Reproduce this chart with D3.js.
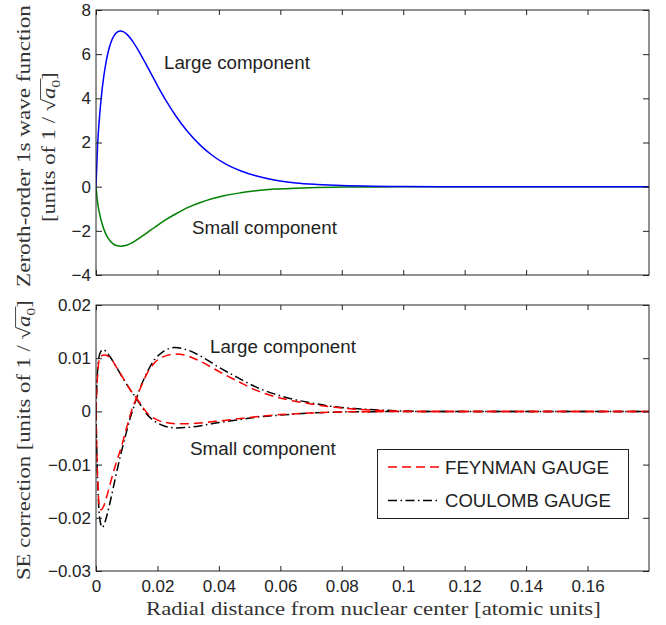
<!DOCTYPE html>
<html><head><meta charset="utf-8">
<script src="https://cdn.jsdelivr.net/npm/d3@7"></script>
<style>body{margin:0;background:#fff} svg{display:block}</style>
</head><body>
<script>
// ---------- DATA ----------
const xTicks = [0, 0.02, 0.04, 0.06, 0.08, 0.1, 0.12, 0.14, 0.16];
const xTickLabels = ["0", "0.02", "0.04", "0.06", "0.08", "0.1", "0.12", "0.14", "0.16"];
const topYTicks = [-4, -2, 0, 2, 4, 6, 8];
const topYTickLabels = ["\u22124", "\u22122", "0", "2", "4", "6", "8"];
const botYTicks = [-0.03, -0.02, -0.01, 0, 0.01, 0.02];
const botYTickLabels = ["\u22120.03", "\u22120.02", "\u22120.01", "0", "0.01", "0.02"];

// Top panel: zeroth-order 1s wave function
const xTop = [0, 0.0005, 0.001, 0.002, 0.003, 0.004, 0.005, 0.006, 0.007, 0.008, 0.009, 0.010, 0.012, 0.014, 0.016, 0.018, 0.020, 0.023, 0.026, 0.030, 0.034, 0.038, 0.042, 0.047, 0.052, 0.058, 0.065, 0.072, 0.080, 0.090, 0.100, 0.120, 0.140, 0.160, 0.180];
const largeTop = [0, 1.83, 2.91, 4.42, 5.43, 6.12, 6.58, 6.86, 7.01, 7.05, 7.01, 6.91, 6.57, 6.12, 5.62, 5.10, 4.58, 3.85, 3.20, 2.46, 1.87, 1.40, 1.04, 0.72, 0.49, 0.30, 0.17, 0.10, 0.05, 0.02, 0.01, 0, 0, 0, 0];
const smallTop = [0, -0.70, -1.11, -1.69, -2.08, -2.34, -2.52, -2.63, -2.68, -2.70, -2.68, -2.65, -2.52, -2.34, -2.15, -1.95, -1.75, -1.47, -1.23, -0.94, -0.72, -0.54, -0.40, -0.28, -0.19, -0.11, -0.07, -0.04, -0.02, -0.01, 0, 0, 0, 0, 0];

// Bottom panel: SE correction
const xFeynLarge = [0, 0.0003, 0.0007, 0.0012, 0.0017, 0.0025, 0.0035, 0.005, 0.0065, 0.0084, 0.010, 0.0115, 0.0133, 0.0165, 0.019, 0.022, 0.026, 0.030, 0.034, 0.040, 0.046, 0.052, 0.058, 0.064, 0.070, 0.076, 0.085, 0.095, 0.105, 0.18];
const feynLarge = [0, -0.0080, -0.0150, -0.0182, -0.0185, -0.0178, -0.0160, -0.0128, -0.0098, -0.0064, -0.0030, 0.0000, 0.0027, 0.0070, 0.0091, 0.0103, 0.0108, 0.0104, 0.0094, 0.0075, 0.0057, 0.0040, 0.0028, 0.0020, 0.0014, 0.0009, 0.0004, 0.0001, 0, 0];
const xCoulLarge = [0, 0.0003, 0.0008, 0.0014, 0.0020, 0.0028, 0.0038, 0.005, 0.0065, 0.008, 0.0095, 0.011, 0.0125, 0.014, 0.0165, 0.019, 0.022, 0.0257, 0.030, 0.034, 0.040, 0.046, 0.052, 0.058, 0.064, 0.070, 0.076, 0.085, 0.095, 0.105, 0.18];
const coulLarge = [0, -0.0085, -0.0170, -0.0208, -0.0218, -0.0210, -0.0190, -0.0160, -0.0120, -0.0082, -0.0048, -0.0015, 0.0012, 0.0038, 0.0072, 0.0097, 0.0113, 0.0120, 0.0115, 0.0104, 0.0083, 0.0064, 0.0046, 0.0033, 0.0023, 0.0016, 0.0010, 0.0005, 0.0002, 0, 0];
const xFeynSmall = [0, 0.0004, 0.0009, 0.0016, 0.0028, 0.0046, 0.007, 0.009, 0.011, 0.0133, 0.015, 0.0165, 0.019, 0.022, 0.026, 0.030, 0.035, 0.040, 0.046, 0.052, 0.060, 0.070, 0.080, 0.090, 0.100, 0.18];
const feynSmall = [0, 0.0058, 0.0092, 0.0104, 0.0106, 0.0101, 0.0080, 0.0061, 0.0042, 0.0024, 0.0010, -0.0002, -0.0013, -0.0020, -0.0023, -0.0023, -0.0021, -0.0018, -0.0014, -0.0010, -0.0006, -0.0003, -0.0001, -0.00005, 0, 0];
const xCoulSmall = [0, 0.0004, 0.0009, 0.0015, 0.0024, 0.0035, 0.005, 0.007, 0.009, 0.011, 0.0133, 0.015, 0.0165, 0.019, 0.022, 0.026, 0.030, 0.035, 0.040, 0.046, 0.052, 0.060, 0.070, 0.080, 0.090, 0.100, 0.18];
const coulSmall = [0, 0.0065, 0.0100, 0.0112, 0.0116, 0.0111, 0.0099, 0.0080, 0.0060, 0.0042, 0.0023, 0.0008, -0.0005, -0.0018, -0.0027, -0.0031, -0.0030, -0.0026, -0.0021, -0.0016, -0.0011, -0.0007, -0.0003, -0.0001, -0.00005, 0, 0];

const legendLabels = ["FEYNMAN GAUGE", "COULOMB GAUGE"];

// ---------- LAYOUT ----------
const W = 666, H = 625;
const L = 96, R = 649;
const topP = {t: 10, b: 275};
const botP = {t: 305, b: 571};
const SANS = "'Liberation Sans', Arial, Helvetica, sans-serif";
const SERIF = "'Liberation Serif', 'Times New Roman', serif";
const INK = "#222";
const LABEL_INK = "#333";

const svg = d3.select("body").append("svg").attr("width", W).attr("height", H);

const x = d3.scaleLinear().domain([0, 0.18]).range([L, R]);
const yTop = d3.scaleLinear().domain([-4, 8]).range([topP.b, topP.t]);
const yBot = d3.scaleLinear().domain([-0.03, 0.02]).range([botP.b, botP.t]);

const defs = svg.append("defs");
defs.append("clipPath").attr("id", "clipTop").append("rect")
  .attr("x", L).attr("y", topP.t).attr("width", R - L).attr("height", topP.b - topP.t);
defs.append("clipPath").attr("id", "clipBot").append("rect")
  .attr("x", L).attr("y", botP.t).attr("width", R - L).attr("height", botP.b - botP.t);

function styleAxis(g) {
  g.select(".domain").remove();
  g.selectAll(".tick line").attr("stroke", INK).attr("stroke-width", 1);
  g.selectAll(".tick text").attr("fill", INK);
  g.attr("font-family", SANS).attr("font-size", 17);
}

function drawFrame(y, p, yTicks, yLabels, showX) {
  const fmtY = d => yLabels[yTicks.indexOf(d)];
  const fmtX = d => xTickLabels[xTicks.indexOf(d)];
  svg.append("g").attr("transform", `translate(${L},0)`)
    .call(d3.axisLeft(y).tickValues(yTicks).tickFormat(fmtY).tickSizeInner(-6).tickSizeOuter(0).tickPadding(5))
    .call(styleAxis);
  svg.append("g").attr("transform", `translate(${R},0)`)
    .call(d3.axisRight(y).tickValues(yTicks).tickFormat("").tickSizeInner(-6).tickSizeOuter(0))
    .call(styleAxis);
  svg.append("g").attr("transform", `translate(0,${p.t})`)
    .call(d3.axisTop(x).tickValues(xTicks).tickFormat("").tickSizeInner(-5).tickSizeOuter(0))
    .call(styleAxis);
  svg.append("g").attr("transform", `translate(0,${p.b})`)
    .call(d3.axisBottom(x).tickValues(xTicks).tickFormat(showX ? fmtX : "").tickSizeInner(-5).tickSizeOuter(0).tickPadding(9))
    .call(styleAxis);
  svg.append("rect").attr("x", L).attr("y", p.t).attr("width", R - L).attr("height", p.b - p.t)
    .attr("fill", "none").attr("stroke", INK).attr("stroke-width", 1);
}

function series(xs, ys) { return xs.map((d, i) => [d, ys[i]]); }

// ---------- TOP PANEL ----------
const lineTop = d3.line().x(d => x(d[0])).y(d => yTop(d[1])).curve(d3.curveMonotoneX);
const gTop = svg.append("g").attr("clip-path", "url(#clipTop)");
gTop.append("path").attr("d", lineTop(series(xTop, smallTop)))
  .attr("fill", "none").attr("stroke", "#008000").attr("stroke-width", 1.5);
gTop.append("path").attr("d", lineTop(series(xTop, largeTop)))
  .attr("fill", "none").attr("stroke", "#0000ff").attr("stroke-width", 1.5);
drawFrame(yTop, topP, topYTicks, topYTickLabels, false);

// ---------- BOTTOM PANEL ----------
const lineBot = d3.line().x(d => x(d[0])).y(d => yBot(d[1])).curve(d3.curveMonotoneX);
const gBot = svg.append("g").attr("clip-path", "url(#clipBot)");
const DASH = "9,5";
const DASHDOT = "9,3.5,1.5,3.5";
[[xCoulLarge, coulLarge], [xCoulSmall, coulSmall]].forEach(([xs, ys]) => {
  gBot.append("path").attr("d", lineBot(series(xs, ys)))
    .attr("fill", "none").attr("stroke", "#000").attr("stroke-width", 1.5).attr("stroke-dasharray", DASHDOT);
});
[[xFeynLarge, feynLarge], [xFeynSmall, feynSmall]].forEach(([xs, ys]) => {
  gBot.append("path").attr("d", lineBot(series(xs, ys)))
    .attr("fill", "none").attr("stroke", "#ff0000").attr("stroke-width", 1.5).attr("stroke-dasharray", DASH);
});
drawFrame(yBot, botP, botYTicks, botYTickLabels, true);

// ---------- TEXT HELPERS ----------
function fitWidth(t, target) {
  const len = t.node().getComputedTextLength();
  const fs = parseFloat(t.attr("font-size"));
  t.attr("font-size", fs * target / len);
}

function annot(txt, xx, yy, w) {
  const t = svg.append("text").attr("x", xx).attr("y", yy).attr("font-family", SANS)
    .attr("font-size", 17).attr("fill", INK).text(txt);
  fitWidth(t, w);
}
annot("Large component", 164, 69, 146);
annot("Small component", 192, 234, 145);
annot("Large component", 210, 353, 146);
annot("Small component", 190, 455, 146);

// ---------- LEGEND ----------
const lg = svg.append("g");
lg.append("rect").attr("x", 377.5).attr("y", 449.5).attr("width", 251).attr("height", 69)
  .attr("fill", "#fff").attr("stroke", INK).attr("stroke-width", 1);
const legStyles = [{c: "#ff0000", d: DASH}, {c: "#000", d: DASHDOT}];
legendLabels.forEach((lab, i) => {
  const yy = 467 + i * 33.5;
  lg.append("line").attr("x1", 388).attr("x2", 439).attr("y1", yy).attr("y2", yy)
    .attr("stroke", legStyles[i].c).attr("stroke-width", 1.5).attr("stroke-dasharray", legStyles[i].d);
  const t = lg.append("text").attr("x", 445).attr("y", yy + 6.5).attr("font-family", SANS)
    .attr("font-size", 17).attr("fill", INK).text(lab);
  fitWidth(t, i === 0 ? 164 : 166);
});

// ---------- AXIS LABELS ----------
// stretch a serif text horizontally (along its direction) to a target length
function stretchedText(parent, fs, target, build) {
  const sg = parent.append("g");
  const t = sg.append("text").attr("x", 0).attr("y", 0)
    .attr("font-family", SERIF).attr("font-size", fs).attr("fill", LABEL_INK);
  build(t, fs);
  const len = t.node().getComputedTextLength();
  t.attr("x", -len / 2);
  sg.attr("transform", `scale(${target / len},1)`);
  return {sg, t};
}

const gx = svg.append("g").attr("transform", `translate(${(L + R) / 2 + 1},615)`);
stretchedText(gx, 18, 455, t => t.text("Radial distance from nuclear center [atomic units]"));

function sqrtBuild(prefix) {
  return (t, fs) => {
    t.append("tspan").text(prefix + "[units of 1 / ");
    t.append("tspan").text("\u221A");
    t.append("tspan").attr("font-style", "italic").text("a");
    t.append("tspan").attr("font-size", fs * 0.7).attr("dy", fs * 0.25).text("0");
    t.append("tspan").attr("dy", -fs * 0.25).text("]");
  };
}
function sqrtLabel(parent, prefix, fs, target) {
  const {sg, t} = stretchedText(parent, fs, target, sqrtBuild(prefix));
  const n = (prefix + "[units of 1 / ").length;
  const sq = t.node().getEndPositionOfChar(n);
  const e0 = t.node().getEndPositionOfChar(n + 2);
  sg.append("line").attr("x1", sq.x - 0.5).attr("x2", e0.x + 1)
    .attr("y1", -fs * 0.80).attr("y2", -fs * 0.80)
    .attr("stroke", LABEL_INK).attr("stroke-width", 0.9);
}

// Top y label (two lines)
const g1 = svg.append("g").attr("transform", "translate(30,146) rotate(-90)");
stretchedText(g1, 18, 282, t => t.text("Zeroth-order 1s wave function"));
const g2 = svg.append("g").attr("transform", "translate(55,147) rotate(-90)");
sqrtLabel(g2, "", 18, 150);

// Bottom y label
const g3 = svg.append("g").attr("transform", "translate(30,440) rotate(-90)");
sqrtLabel(g3, "SE correction ", 18, 280);
</script>
</body></html>
